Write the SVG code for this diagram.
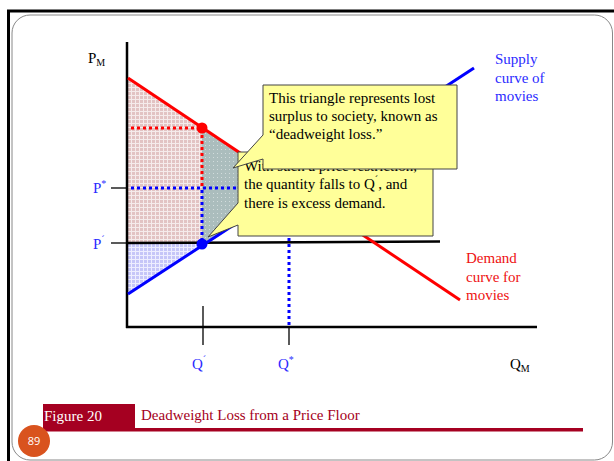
<svg xmlns="http://www.w3.org/2000/svg" width="614" height="461" viewBox="0 0 614 461">
<defs>
<style>
.t{font-family:"Liberation Serif","Times New Roman",serif;font-size:15px}
.blk{fill:#000}
.blu{fill:#2b2bff}
.red{fill:#ee1111}
.call{fill:#ffff99;stroke:#444;stroke-width:1}
.dotr{stroke:#ff0000;stroke-width:3;stroke-dasharray:3 3;fill:none}
.dotb{stroke:#0000ff;stroke-width:3;stroke-dasharray:3 3;fill:none}
.tick{stroke:#000;stroke-width:1.3}
</style>
<pattern id="pinkP" width="4" height="4" patternUnits="userSpaceOnUse">
<rect width="4" height="4" fill="#f5ebeb"/>
<rect width="3" height="3" fill="#e2c3c3"/>
</pattern>
<pattern id="grayP" width="4" height="4" patternUnits="userSpaceOnUse">
<rect width="4" height="4" fill="#abbdbd"/>
<rect x="1" y="1" width="1" height="1" fill="#d2dcdc"/>
</pattern>
<pattern id="blueP" width="4" height="4" patternUnits="userSpaceOnUse">
<rect width="4" height="4" fill="#eeeeff"/>
<rect width="3" height="3" fill="#c6c6f8"/>
</pattern>
</defs>
<rect width="614" height="461" fill="#fff"/>
<g id="frame">
<path d="M8.5 461 V11 H614" fill="none" stroke="#000" stroke-width="3"/>
<rect x="12" y="15" width="600.5" height="445" rx="18" fill="none" stroke="#888" stroke-width="1"/>
</g>
<g id="areas">
<polygon points="128,78 202,128 202,243 128,243" fill="url(#pinkP)"/>
<polygon points="202,128 289,187 202,244" fill="url(#grayP)"/>
<polygon points="128,243 202,243 128,294" fill="url(#blueP)"/>
</g>
<g id="guides">
<path class="dotr" d="M131 128 H202 V187"/>
<path class="dotb" d="M131 188 H240 M202 190 V243 M289 190 V327"/>
</g>
<g id="axes">
<line x1="127" y1="42" x2="127" y2="328" stroke="#000" stroke-width="2.5"/>
<line x1="126" y1="327" x2="537" y2="327" stroke="#000" stroke-width="2.5"/>
<line class="tick" x1="111" y1="188" x2="127" y2="188"/>
<line class="tick" x1="111" y1="243" x2="127" y2="243"/>
<line class="tick" x1="203" y1="306" x2="203" y2="345"/>
<line class="tick" x1="289" y1="326" x2="289" y2="345"/>
<line x1="127" y1="243" x2="440" y2="241.5" stroke="#000" stroke-width="2.5"/>
</g>
<g id="curves">
<line id="demand" x1="128" y1="78" x2="460" y2="300" stroke="#ff0000" stroke-width="3"/>
<line id="supply" x1="128" y1="294" x2="474" y2="68" stroke="#0000ff" stroke-width="3"/>
<circle cx="202" cy="128" r="5.5" fill="#ff0000"/>
<circle cx="202" cy="244" r="5.5" fill="#0000ff"/>
</g>
<g id="labels">
<text class="t blk" x="88" y="63">P<tspan font-size="10" dy="3">M</tspan></text>
<text class="t blu" x="93" y="193">P<tspan font-size="10" dy="-6">*</tspan></text>
<text class="t blu" x="93" y="249">P<tspan font-size="10" dy="-6">´</tspan></text>
<text class="t blu" x="192" y="369">Q<tspan font-size="10" dy="-6">´</tspan></text>
<text class="t blu" x="278" y="369">Q<tspan font-size="10" dy="-6">*</tspan></text>
<text class="t blk" x="510" y="369">Q<tspan font-size="10" dy="3">M</tspan></text>
<text class="t blu" x="495" y="64">Supply</text>
<text class="t blu" x="495" y="82.5">curve of</text>
<text class="t blu" x="495" y="101">movies</text>
<text class="t red" x="466" y="263">Demand</text>
<text class="t red" x="466" y="281.5">curve for</text>
<text class="t red" x="466" y="300">movies</text>
</g>
<g id="callout1">
<path class="call" d="M238 152 H433 V236 H238 V225 L208 237 L238 203 Z"/>
<text class="t blk" x="244" y="170.5">With such a price restriction,</text>
<text class="t blk" x="244" y="189">the quantity falls to Q<tspan font-size="10" dy="-6">´</tspan><tspan dy="6">, and</tspan></text>
<text class="t blk" x="244" y="207.5">there is excess demand.</text>
</g>
<g id="callout2">
<path class="call" d="M263 85 H457 V169 H263 V159 L233 168 L263 135 Z" stroke="#666"/>
<text class="t blk" x="269" y="103">This triangle represents lost</text>
<text class="t blk" x="269" y="121">surplus to society, known as</text>
<text class="t blk" x="269" y="139">“deadweight loss.”</text>
</g>
<g id="footer">
<rect x="43" y="404" width="92" height="25" fill="#a50021"/>
<rect x="43" y="428" width="540" height="3.5" fill="#a50021"/>
<text class="t" x="44" y="421" fill="#fff">Figure 20</text>
<text class="t" x="141" y="420" fill="#a50021">Deadweight Loss from a Price Floor</text>
<circle cx="34" cy="441" r="16" fill="#d9531e"/>
<text x="34" y="445" text-anchor="middle" font-family="'Open Sans','Liberation Sans',sans-serif" font-size="11" fill="#fff">89</text>
</g>
</svg>
